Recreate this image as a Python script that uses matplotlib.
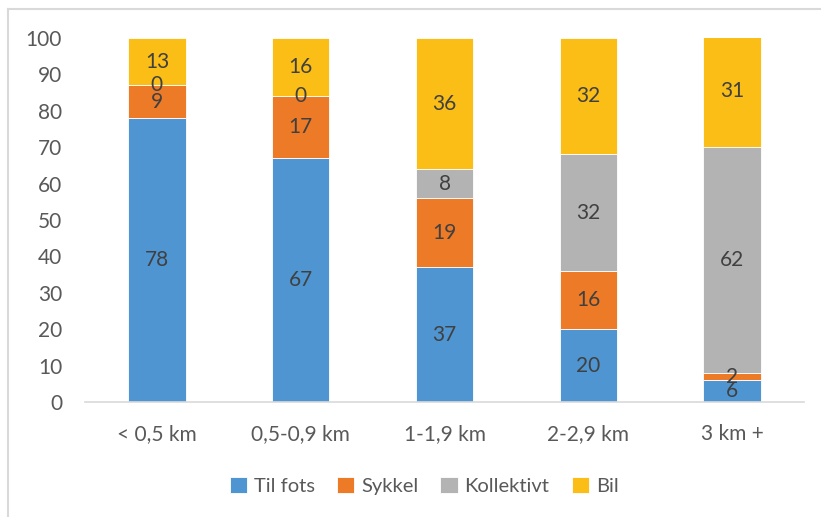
import numpy as np
import matplotlib
matplotlib.use("Agg")
import matplotlib.pyplot as plt
from matplotlib.lines import Line2D

plt.rcParams['font.family'] = ['Lato', 'DejaVu Sans']

categories = ["< 0,5 km", "0,5-0,9 km", "1-1,9 km", "2-2,9 km", "3 km +"]
til_fots = [78, 67, 37, 20, 6]
sykkel = [9, 17, 19, 16, 2]
kollektivt = [0, 0, 8, 32, 62]
bil = [13, 16, 36, 32, 31]

series = [("Til fots", til_fots, "#4E95D2"),
          ("Sykkel", sykkel, "#EC7A26"),
          ("Kollektivt", kollektivt, "#B3B3B3"),
          ("Bil", bil, "#FBBE16")]

fig = plt.figure(figsize=(8.21, 5.17), dpi=100)
ax = fig.add_axes([85 / 821, 1 - 402 / 517, 719 / 821, 364 / 517])

x = np.arange(len(categories))
bottom = np.zeros(len(categories))
for name, vals, col in series:
    vals = np.array(vals, dtype=float)
    ax.bar(x, vals, 0.4, bottom=bottom, color=col, label=name,
           edgecolor="white", linewidth=0.6)
    for xi, b, v in zip(x, bottom, vals):
        ax.text(xi, b + v / 2, f"{int(v)}", ha="center", va="center",
                fontsize=15, color="#404040")
    bottom += vals

ax.set_xlim(-0.5, 4.5)
ax.set_ylim(0, 100)
ax.set_yticks(range(0, 101, 10))
ax.set_xticks(x)
ax.set_xticklabels(categories)
ax.tick_params(length=0, labelsize=15, labelcolor="#595959")
ax.tick_params(axis="x", pad=16)
ax.tick_params(axis="y", pad=16.5)
for s in ["top", "right", "left"]:
    ax.spines[s].set_visible(False)
ax.spines["bottom"].set_color("#D9D9D9")
ax.spines["bottom"].set_linewidth(1.2)

fig.legend(loc="center", bbox_to_anchor=(424 / 821, 1 - 486 / 517), ncol=4,
           frameon=False, fontsize=14.5, labelcolor="#595959",
           handlelength=0.85, handleheight=0.85, handletextpad=0.35,
           columnspacing=1.1)

fig.add_artist(Line2D([8 / 821, 1], [1 - 9 / 517] * 2, color="#D9D9D9", lw=1.5,
                      transform=fig.transFigure))
fig.add_artist(Line2D([8 / 821] * 2, [0, 1 - 9 / 517], color="#D9D9D9", lw=1.5,
                      transform=fig.transFigure))

fig.savefig("out.png", dpi=100)
